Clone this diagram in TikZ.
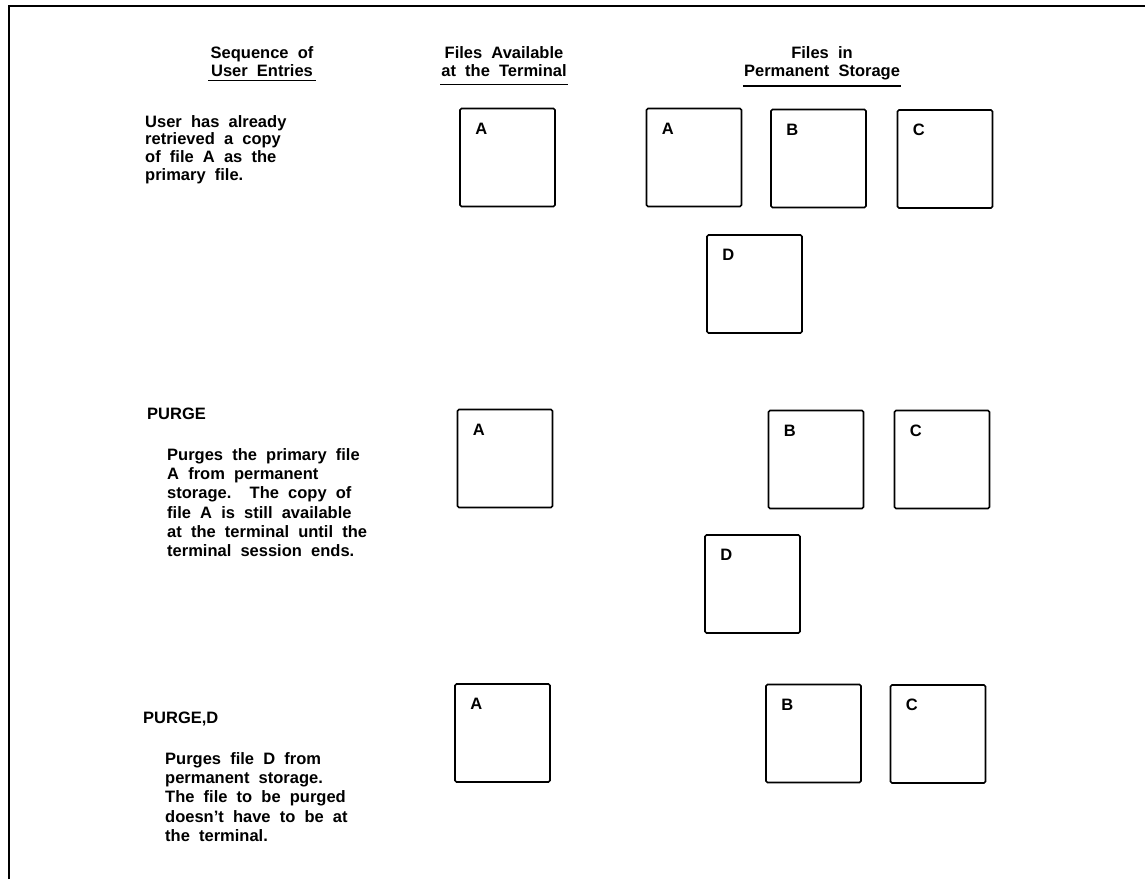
\documentclass[tikz,border=0pt]{standalone}
\usepackage{fontspec}
\setmainfont{Liberation Sans}[WordSpace=2]
\usepackage{tikz}
\usetikzlibrary{positioning}

\begin{document}
\begin{tikzpicture}[
  x=1pt, y=-1pt,
  fbox/.style={draw, line width=1.7pt, rounded corners=1.5pt, minimum width=95pt, minimum height=98pt, inner sep=0pt},
  flabel/.style={anchor=north west, inner sep=0pt, xshift=16pt, yshift=-15pt, font=\bfseries\fontsize{16.5}{18}\selectfont},
  head/.style={align=center, inner sep=0pt, anchor=north, font=\bfseries\fontsize{16.5}{18}\selectfont},
  cmd/.style={anchor=north west, inner sep=0pt, font=\bfseries\fontsize{16.5}{18}\selectfont},
  note/.style={anchor=north west, align=left, inner sep=0pt, font=\bfseries\fontsize{16.5}{19.3}\selectfont},
  uline/.style={line width=1.6pt}
]
\useasboundingbox (0,0) rectangle (1145,879);
\draw[line width=2pt] (9,879) -- (9,6) -- (1145,6);

% column heads
\node[head] (hseq) at (262,46) {Sequence of\\User Entries};
\node[head] (hterm) at (504,46) {Files Available\\at the Terminal};
\node[head] (hperm) at (822,46) {Files in\\Permanent Storage};
\draw[uline] ([xshift=-2pt,yshift=-4pt]hseq.south west) -- ([xshift=2pt,yshift=-4pt]hseq.south east);
\draw[uline] ([xshift=-1pt,yshift=-8pt]hterm.south west) -- ([xshift=1pt,yshift=-8pt]hterm.south east);
\draw[uline] ([xshift=-1pt,yshift=-6pt]hperm.south west) -- ([xshift=1pt,yshift=-6pt]hperm.south east);

% first state
\node[note, font=\bfseries\fontsize{16.5}{17.8}\selectfont] (start) at (145,115) {User has already\\retrieved a copy\\of file A as the\\primary file.};
\node[fbox, label={[flabel]north west:A}] (tA1) at (507.5,157.5) {};
\node[fbox, label={[flabel]north west:A}] (pA1) at (694,157.5) {};
\node[fbox, label={[flabel]north west:B}] (pB1) at (818.5,158.5) {};
\node[fbox, label={[flabel]north west:C}] (pC1) at (945,159) {};
\node[fbox, label={[flabel]north west:D}] (pD1) at (754.5,284) {};

% PURGE
\node[cmd] (purge) at (147,408) {PURGE};
\node[note] (purgetxt) at (167,448) {Purges the primary file\\A from permanent\\storage.\ \ The copy of\\file A is still available\\at the terminal until the\\terminal session ends.};
\node[fbox, label={[flabel]north west:A}] (tA2) at (505,458.5) {};
\node[fbox, label={[flabel]north west:B}] (pB2) at (816,459.5) {};
\node[fbox, label={[flabel]north west:C}] (pC2) at (942,459.5) {};
\node[fbox, label={[flabel]north west:D}] (pD2) at (752.5,584) {};

% PURGE,D
\node[cmd] (purged) at (143,712) {PURGE,D};
\node[note] (purgedtxt) at (165,752) {Purges file D from\\permanent storage.\\The file to be purged\\doesn't have to be at\\the terminal.};
\node[fbox, label={[flabel]north west:A}] (tA3) at (502.5,733) {};
\node[fbox, label={[flabel]north west:B}] (pB3) at (813.5,733.5) {};
\node[fbox, label={[flabel]north west:C}] (pC3) at (938,734) {};
\end{tikzpicture}
\end{document}
